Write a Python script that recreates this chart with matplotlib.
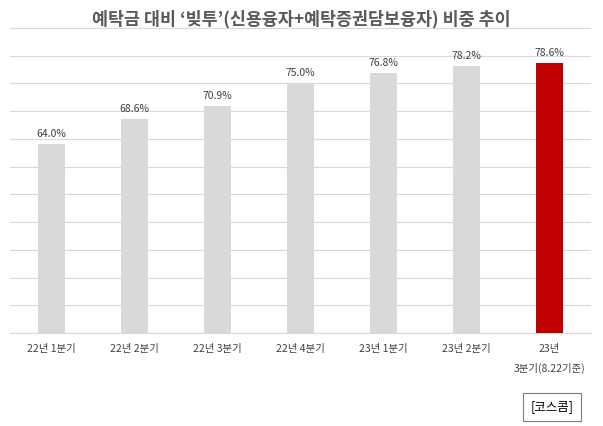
import matplotlib
matplotlib.use("Agg")
import matplotlib.pyplot as plt

plt.rcParams['font.family'] = ['Noto Sans CJK KR', 'DejaVu Sans']

categories = ["22년 1분기", "22년 2분기", "22년 3분기", "22년 4분기", "23년 1분기", "23년 2분기", "23년\n3분기(8.22기준)"]
values = [64.0, 68.6, 70.9, 75.0, 76.8, 78.2, 78.6]
labels = ["64.0%", "68.6%", "70.9%", "75.0%", "76.8%", "78.2%", "78.6%"]
colors = ["#d9d9d9"] * 6 + ["#c00000"]

fig = plt.figure(figsize=(6.03, 4.26), dpi=100)
ax = fig.add_axes([0.017, 0.218, 0.963, 0.723])
x = range(len(values))
ax.bar(x, values, width=0.32, color=colors, zorder=3)
for i, (v, l) in enumerate(zip(values, labels)):
    ax.text(i, v + 0.9, l, ha='center', va='bottom', fontsize=7.5, color='#404040')
ax.set_ylim(30, 85.5)
ax.set_xlim(-0.5, len(values) - 0.5)
ax.set_yticks(range(30, 86, 5))
ax.set_yticklabels([])
ax.tick_params(axis='y', length=0)
ax.tick_params(axis='x', length=0, pad=8)
ax.set_xticks(list(x))
ax.set_xticklabels(categories, fontsize=7.5, color='#404040', linespacing=2.0, va='top')
ax.grid(axis='y', color='#d9d9d9', lw=0.8, zorder=0)
for s in ['top', 'right', 'left']:
    ax.spines[s].set_visible(False)
ax.spines['bottom'].set_color('#d9d9d9')
fig.text(0.5, 0.955, "예탁금 대비 \u2018빚투\u2019(신용융자+예탁증권담보융자) 비중 추이", ha='center', va='center',
         fontsize=12.5, fontweight='bold', color='#595959')
fig.text(0.915, 0.045, "[코스콤]", ha='center', va='center', fontsize=9, color='#000000',
         bbox=dict(boxstyle='square,pad=0.6', fc='white', ec='#7f7f7f', lw=0.8))
fig.savefig("out.png", dpi=100)
